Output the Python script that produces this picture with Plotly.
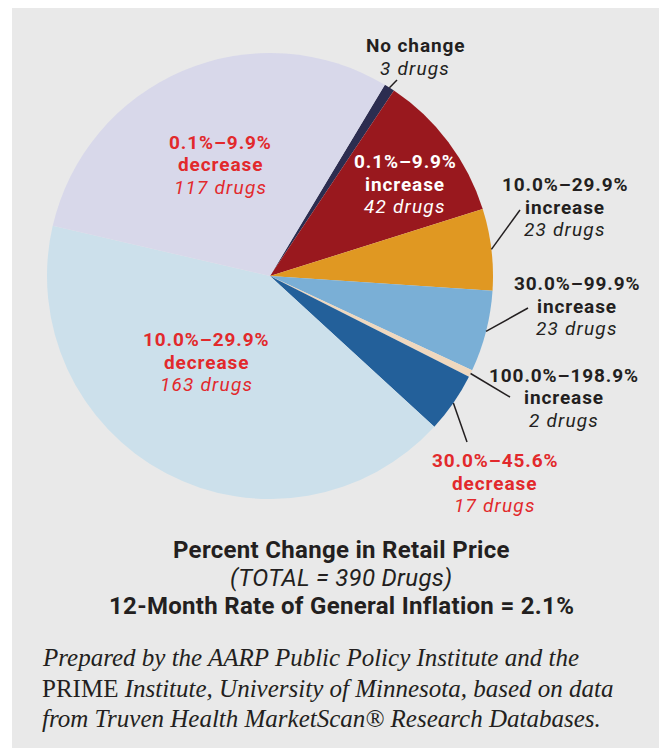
import math
import plotly.graph_objects as go

W, H = 667, 748
# the page body adds an 8px margin, so the figure itself is a bit smaller
OFF = 8
FW, FH = W - OFF, H - OFF

# Data
categories = ['No change', '0.1%–9.9% increase', '10.0%–29.9% increase', '30.0%–99.9% increase',
              '100.0%–198.9% increase', '30.0%–45.6% decrease', '10.0%–29.9% decrease',
              '0.1%–9.9% decrease']
range_labels = ['No change', '0.1%–9.9%', '10.0%–29.9%', '30.0%–99.9%',
                '100.0%–198.9%', '30.0%–45.6%', '10.0%–29.9%', '0.1%–9.9%']
directions = ['', 'increase', 'increase', 'increase', 'increase', 'decrease', 'decrease', 'decrease']
drug_counts = [3, 42, 23, 23, 2, 17, 163, 117]

slice_colors = ['#2c2d50', '#99181e', '#e09822', '#7aafd6', '#efd8bf', '#23609a', '#cce0eb', '#d8d8ea']

title_lines = ['Percent Change in Retail Price', '(TOTAL = 390 Drugs)',
               '12-Month Rate of General Inflation = 2.1%']
note_lines = ['<i>Prepared by the AARP Public Policy Institute and the</i>',
              'PRIME <i>Institute, University of Minnesota, based on data</i>',
              '<i>from Truven Health MarketScan® Research Databases.</i>']

DARK = '#231f20'
RED = '#e2292c'
FONT = 'Roboto'

# pie geometry in page pixels
CX, CY, R = 270, 276, 223
ROTATION = 31


def px(x, y):
    '''page pixels -> paper coords'''
    return (x - OFF) / FW, 1 - (y - OFF) / FH


def spaced(s, sp):
    return '<span style="letter-spacing:%spx">%s</span>' % (sp, s)


# label blocks: (center x, center y, colour), in page pixels
label_pos = [
    (415, 57, DARK),
    (405, 184, 'white'),
    (565, 207, DARK),
    (577, 306, DARK),
    (564, 398, DARK),
    (495, 483, RED),
    (206, 362, RED),
    (221, 165, RED),
]
# outer end of leader lines (None = label sits inside the slice)
leader_end = [(397, 80), None, (520, 210), (528, 308), (510, 397), (467, 442), None, None]

x0, y1 = px(CX - R, CY - R)
x1, y0 = px(CX + R, CY + R)

fig = go.Figure(go.Pie(
    labels=categories,
    values=drug_counts,
    sort=False,
    direction='clockwise',
    rotation=ROTATION,
    marker=dict(colors=slice_colors, line=dict(width=0)),
    textinfo='none',
    hoverinfo='skip',
    showlegend=False,
    domain=dict(x=[x0, x1], y=[y0, y1]),
))

rx0, ry1 = px(12, OFF)
rx1, ry0 = px(666, H)
shapes = [dict(type='rect', xref='paper', yref='paper', x0=rx0, x1=rx1, y0=ry0, y1=ry1,
               fillcolor='#e9e9e9', line=dict(width=0), layer='below')]
annotations = []


def add_block(lines, cx, cy, spacing, size, color, family=FONT, anchor='center'):
    n = len(lines)
    for k, t in enumerate(lines):
        ax, ay = px(cx, cy + (k - (n - 1) / 2) * spacing)
        annotations.append(dict(text=t, x=ax, y=ay, xref='paper', yref='paper', showarrow=False,
                                xanchor=anchor, yanchor='middle', align=anchor,
                                font=dict(family=family, size=size, color=color)))


total = sum(drug_counts)
cum = 0
for i, v in enumerate(drug_counts):
    mid = math.radians(ROTATION + (cum + v / 2) / total * 360)
    cum += v
    cx, cy, col = label_pos[i]
    lines = ['<b>%s</b>' % spaced(range_labels[i], 0.9)]
    if directions[i]:
        lines.append('<b>%s</b>' % spaced(directions[i], 0.9))
    lines.append('<i>%s</i>' % spaced('%d drugs' % v, 1.2))
    add_block(lines, cx, cy, 22.5, 19, col)
    if leader_end[i] is not None:
        sx, sy = px(CX + R * math.sin(mid), CY - R * math.cos(mid))
        ex, ey = px(*leader_end[i])
        shapes.append(dict(type='line', xref='paper', yref='paper', x0=sx, y0=sy, x1=ex, y1=ey,
                           line=dict(color=DARK, width=1.5)))

# titles under the pie
add_block(['<b>%s</b>' % spaced(title_lines[0], 0.3),
           '<i>%s</i>' % spaced(title_lines[1], 0.3),
           '<b>%s</b>' % spaced(title_lines[2], 0.3)],
          341, 578, 28, 24, DARK)

# source note
add_block(note_lines, 40, 688, 30.5, 25, DARK, family='Liberation Serif', anchor='left')

fig.update_layout(
    width=FW, height=FH,
    margin=dict(l=0, r=0, t=0, b=0),
    paper_bgcolor='white',
    plot_bgcolor='white',
    shapes=shapes,
    annotations=annotations,
)

fig.write_html('out.html')
